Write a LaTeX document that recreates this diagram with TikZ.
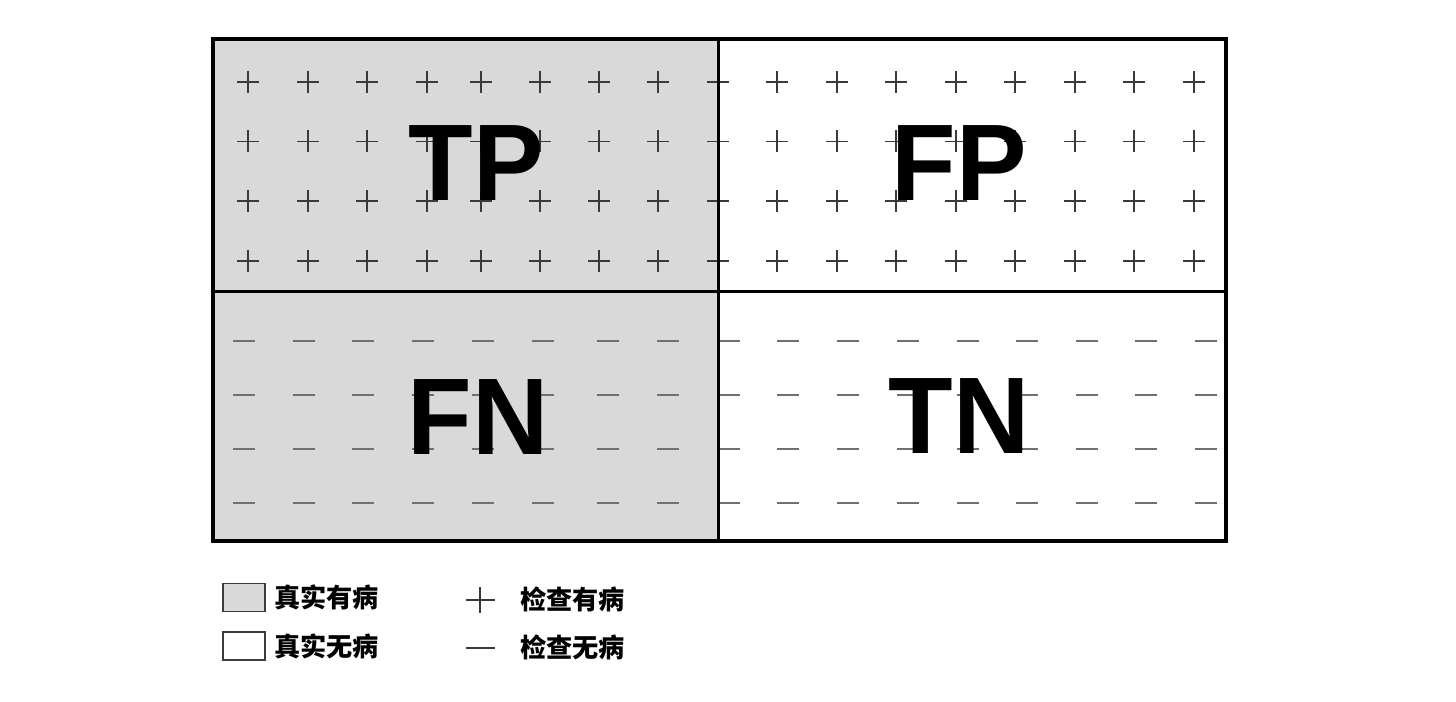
\documentclass[tikz,border=0pt]{standalone}
\usepackage{fontspec}
\setmainfont{Liberation Sans}
\newfontfamily\cjk{Noto Sans CJK SC}
\usetikzlibrary{positioning}
\definecolor{cellgray}{RGB}{217, 217, 217}
\definecolor{plusgray}{RGB}{58, 58, 58}
\definecolor{minusgray}{RGB}{112, 112, 112}
\definecolor{framegray}{RGB}{60, 60, 60}
\tikzset{
    frame/.style={line width=1.8pt, black},
    bigtag/.style={font=\fontsize{62}{62}\selectfont\bfseries, inner sep=0pt,
                   xscale=0.97},
    legbox/.style={rectangle, draw=framegray, line width=0.8pt,
                   minimum width=0.84cm, minimum height=0.56cm, inner sep=0pt},
    legtext/.style={font=\cjk\bfseries\fontsize{14.9}{15}\selectfont,
                    inner sep=0pt, anchor=west},
    plusmark/.style={plusgray, line width=0.75pt},
    minusmark/.style={minusgray, line width=0.75pt},
}

\begin{document}
\begin{tikzpicture}[x=0.02cm, y=-0.02cm]
    \useasboundingbox (0,0) rectangle (1456,702);

    % Cells
    \fill[cellgray] (213,39) rectangle (718.5,541);

    % Test result marks
    \foreach \xx in {248,308,367,427,481,540,599,658,718,777,837,896,956,1015,1075,1134,1194}
        \foreach \yy in {82,141.5,201,261}
            \draw[plusmark] (\xx-11,\yy) -- (\xx+11,\yy) (\xx,\yy-11) -- (\xx,\yy+11);
    \foreach \xx in {244,304,363,423,483,543,608,668,729,788,848,908,968,1027,1087,1146,1206}
        \foreach \yy in {341,395,449,503}
            \draw[minusmark] (\xx-11,\yy) -- (\xx+11,\yy);

    % Frame
    \draw[frame] (213,39) rectangle (1226,541);
    \draw[frame] (718.5,39) -- (718.5,541);
    \draw[frame] (213,291.5) -- (1226,291.5);

    % Cell tags
    \node[bigtag] (tp) at (476,163.5) {TP};
    \node[bigtag] (fp) at (959,163.5) {FP};
    \node[bigtag] (fn) at (478,417) {FN};
    \node[bigtag] (tn) at (959,416) {TN};

    % Legend
    \node[legbox, fill=cellgray] (sick) at (244,597.5) {};
    \node[legbox, fill=white] (well) at (244,646) {};
    \node[legtext, right=0.16cm of sick] (sicktxt) {真实有病};
    \node[legtext, right=0.16cm of well] (welltxt) {真实无病};

    \coordinate (pluskey) at (480,600);
    \coordinate (minuskey) at (480,648);
    \draw[plusmark] (pluskey) ++(-14.5,0) -- ++(29,0);
    \draw[plusmark] (pluskey) ++(0,-13) -- ++(0,26);
    \draw[plusmark] (minuskey) ++(-14.5,0) -- ++(29,0);
    \node[legtext] (postxt) at (520,599) {检查有病};
    \node[legtext] (negtxt) at (520,647) {检查无病};
\end{tikzpicture}
\end{document}
